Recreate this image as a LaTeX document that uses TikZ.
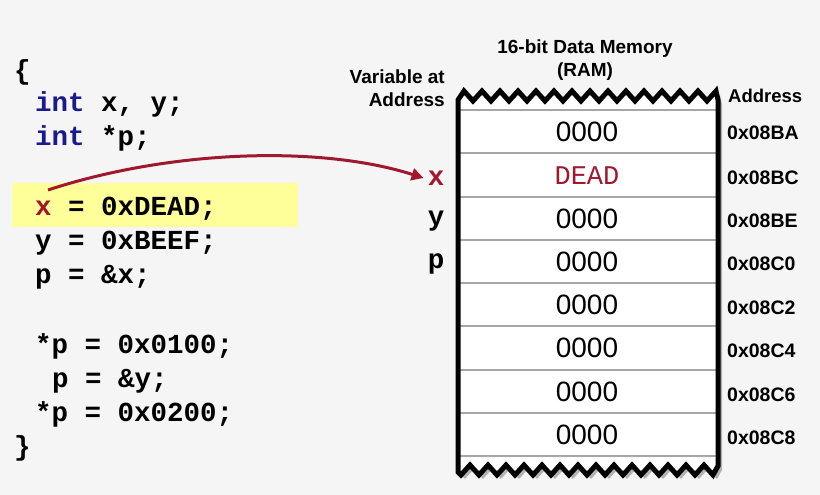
\documentclass[tikz,border=0pt]{standalone}
\usepackage{fontspec}
\usetikzlibrary{arrows.meta}
\setmainfont{Liberation Sans}
\newfontfamily\cmono{Liberation Mono}
\begin{document}
\begin{tikzpicture}[x=1pt,y=-1pt,
 code/.style={anchor=base west,inner sep=0pt,font=\cmono\bfseries\fontsize{27.5}{27.5}\selectfont},
 val/.style={inner sep=0pt,font=\fontsize{28}{28}\selectfont},
 addr/.style={anchor=west,inner sep=0pt,font=\bfseries\fontsize{19.5}{19.5}\selectfont},
 var/.style={inner sep=0pt,font=\cmono\bfseries\fontsize{27.5}{27.5}\selectfont}]
\definecolor{bg}{HTML}{F5F5F5}
\definecolor{kw}{HTML}{1A1A8C}
\definecolor{dr}{HTML}{A0182E}
\definecolor{hl}{HTML}{FFFF99}
\fill[bg] (0,0) rectangle (820,495);
\useasboundingbox (0,0) rectangle (820,495);
\fill[hl] (12,183) rectangle (298,227);
% code
\node[code] (c0) at (14,80) {\{};
\node[code] (c1) at (35,112) {\textcolor{kw}{int} x, y;};
\node[code] (c2) at (35,146) {\textcolor{kw}{int} *p;};
\node[code] (c3) at (35,215) {\textcolor{dr}{x} = 0xDEAD;};
\node[code] (c4) at (35,249) {y = 0xBEEF;};
\node[code] (c5) at (35,283) {p = \&x;};
\node[code] (c6) at (35,353) {*p = 0x0100;};
\node[code] (c7) at (52,387) {p = \&y;};
\node[code] (c8) at (35,421) {*p = 0x0200;};
\node[code] (c9) at (14,455) {\}};
% memory frame
\def\mem{(458,472) -- (458,100) -- (464,91)
 \foreach \i in {0,...,13} { -- ++(9,10) -- ++(9,-10)} -- (718,100) -- (718,466)
 -- (713,475) \foreach \i in {0,...,13} { -- ++(-9,-10) -- ++(-9,10)} -- cycle}
\fill[gray!60,xshift=4pt,yshift=-4pt] \mem;
\fill[white] \mem;
\foreach \yy in {110,153,197,240,283,326,370,413,456}
  \draw[gray!70,line width=1.2pt] (460,\yy) -- (716,\yy);
\draw[black,line width=5pt,line join=miter] \mem;
% contents
\node[val] (m0) at (587,132) {0000};
\node[val,font=\cmono\fontsize{27}{27}\selectfont,text=dr] (m1) at (587,176) {DEAD};
\node[val] (m2) at (587,219) {0000};
\node[val] (m3) at (587,262) {0000};
\node[val] (m4) at (587,305) {0000};
\node[val] (m5) at (587,348) {0000};
\node[val] (m6) at (587,392) {0000};
\node[val] (m7) at (587,435) {0000};
\foreach \a/\y in {08BA/133,08BC/178,08BE/221,08C0/264,08C2/308,08C4/351,08C6/395,08C8/438}
  \node[addr] (a\a) at (727,\y) {0x\a};
\node[addr,font=\bfseries\fontsize{18.5}{18.5}\selectfont] (ah) at (728,96) {Address};
\node[var,text=dr] (vx) at (436,178) {x};
\node[var] (vy) at (436,221) {y};
\node[var] (vp) at (436,264) {p};
\node[inner sep=0pt,align=right,anchor=east,font=\bfseries\fontsize{19}{23}\selectfont] (vh) at (445,88) {Variable at\\Address};
\node[inner sep=0pt,align=center,font=\bfseries\fontsize{19}{23}\selectfont] (th) at (585,60) {16-bit Data Memory\\(RAM)};
\coordinate (s) at (48,190);
\draw[dr,line width=3pt,-{Triangle[length=12pt,width=12pt]}] (s) .. controls (170,150) and (320,145) .. ([xshift=-4pt]vx.west);
\end{tikzpicture}
\end{document}
